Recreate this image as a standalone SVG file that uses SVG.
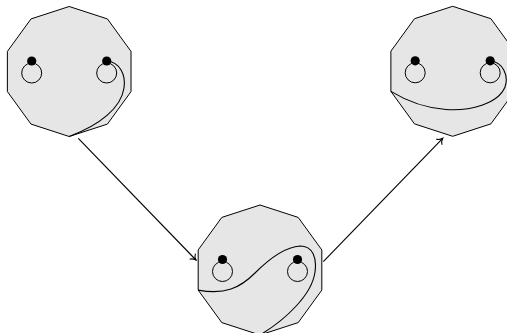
<svg xmlns="http://www.w3.org/2000/svg" width="507" height="333" viewBox="0 0 507 333">
<style>
.deca{fill:#e6e6e6;stroke:#000;stroke-width:1;stroke-linejoin:round}
.ring{fill:none;stroke:#000;stroke-width:1}
.dot{fill:#000}
.curve{fill:none;stroke:#000;stroke-width:1.1}
.edge{fill:none;stroke:#000;stroke-width:1.1}
</style>
<defs>
<polygon id="decagon" class="deca" points="0,-65 38.21,-52.59 61.82,-20.09 61.82,20.09 38.21,52.59 0,65 -38.21,52.59 -61.82,20.09 -61.82,-20.09 -38.21,-52.59"/>
<g id="pegs">
<circle class="ring" cx="-37.5" cy="1.5" r="10"/>
<circle class="ring" cx="37.5" cy="1.5" r="10"/>
<circle class="dot" cx="-37.5" cy="-10.5" r="4.6"/>
<circle class="dot" cx="37.5" cy="-10.5" r="4.6"/>
</g>
<marker id="arrow" markerWidth="12" markerHeight="12" refX="0" refY="0" viewBox="-6 -6 12 12" orient="auto" markerUnits="userSpaceOnUse">
<path d="M-5,-4 C-4,-1.8 -1.2,-0.4 0,0 C-1.2,0.4 -4,1.8 -5,4" fill="none" stroke="#000" stroke-width="1.1"/>
</marker>
</defs>
<g id="state1" transform="translate(69.2,71.5)">
<use href="#decagon"/>
<use href="#pegs"/>
<path class="curve" d="M37.5,-10.5 C50.8,-9.5 56.8,3.5 54.8,16.5 C51.8,36.5 30.8,53.5 0,65"/>
</g>
<g id="state2" transform="translate(452.7,71.3)">
<use href="#decagon"/>
<use href="#pegs"/>
<path class="curve" d="M37.5,-10.5 C50.3,-9.3 56.3,4.7 52.3,15.7 C45.3,32.7 17.3,39.7 -6.7,38.2 C-27.7,36.7 -47.7,28.7 -61.82,20.09"/>
</g>
<g id="state3" transform="translate(260,270)">
<use href="#decagon"/>
<use href="#pegs"/>
<path class="curve" d="M-61.82,20.09 C-35,25 -20,18 -5,3 C10,-12 25,-23 40,-24 C53,-24 57,-12 55,2 C52,25 25,50 0,65"/>
</g>
<g id="connectors">
<path class="edge" d="M78.3,138.3 L196,260" marker-end="url(#arrow)"/>
<path class="edge" d="M323.3,261.7 L442.7,138.3" marker-end="url(#arrow)"/>
</g>
</svg>
